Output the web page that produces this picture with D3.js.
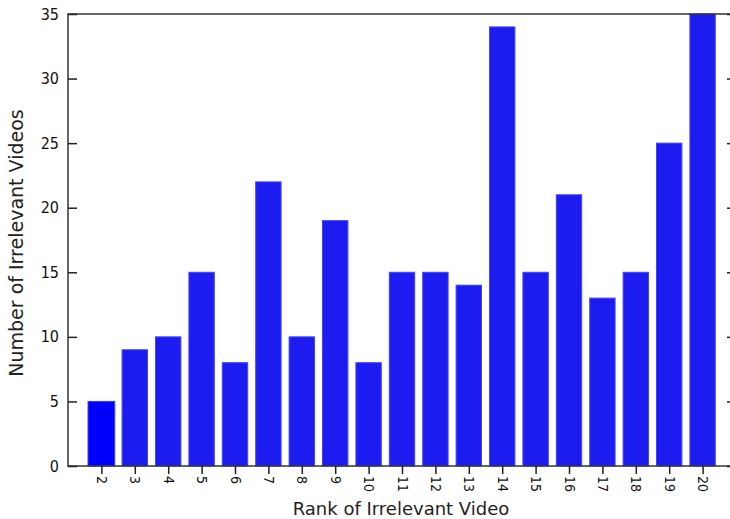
<!DOCTYPE html>
<html><head><meta charset="utf-8">
<script src="https://cdn.jsdelivr.net/npm/d3@7"></script>
<style>body{margin:0;background:#fff}svg{display:block}</style>
</head><body>
<svg id="c" width="730" height="519"></svg>
<script>
const ranks = [2,3,4,5,6,7,8,9,10,11,12,13,14,15,16,17,18,19,20];
const counts = [5,9,10,15,8,22,10,19,8,15,15,14,34,15,21,13,15,25,35];
const yTicks = [0,5,10,15,20,25,30,35];
const xTitle = "Rank of Irrelevant Video";
const yTitle = "Number of Irrelevant Videos";

const svg = d3.select("#c");
const m = {l:68, r:736, t:14, b:466};
const x = d3.scaleLinear().domain([1,21]).range([m.l, m.r]);
const y = d3.scaleLinear().domain([0,35]).range([m.b, m.t]);
const step = x(2)-x(1);
const font = "Tahoma, 'DejaVu Sans', Verdana, sans-serif";
const tickFont = "'DejaVu Sans Condensed', 'DejaVu Sans', sans-serif";

// bars
svg.append("g").selectAll("rect").data(ranks).join("rect")
  .attr("x", (d,i)=> x(d) - step*(i===0?0.4:0.38))
  .attr("width", (d,i)=> step*(i===0?0.8:0.76))
  .attr("y", (d,i)=> y(counts[i]))
  .attr("height", (d,i)=> y(0)-y(counts[i]))
  .attr("fill", (d,i)=> i===0 ? "#0000ff" : "#1c1cf0")
  .attr("stroke", (d,i)=> i===0 ? "#3a3aff" : "#4444ff")
  .attr("stroke-width", 1);

// frame
svg.append("rect").attr("x", m.l).attr("y", m.t).attr("width", m.r-m.l).attr("height", m.b-m.t)
  .attr("fill","none").attr("stroke","#333").attr("stroke-width",1.5);

// y axis left
const yAx = svg.append("g").attr("transform",`translate(${m.l},0)`)
  .call(d3.axisLeft(y).tickValues(yTicks).tickSize(-9).tickPadding(9).tickFormat(d3.format("d")));
yAx.select(".domain").remove();
yAx.selectAll("line").attr("stroke","#222").attr("stroke-width",1.5);
yAx.selectAll("text").attr("font-family",tickFont).attr("font-size",16).attr("fill","#111");

// y axis right ticks
const yAxR = svg.append("g").attr("transform",`translate(${m.r},0)`)
  .call(d3.axisRight(y).tickValues(yTicks).tickSize(-9).tickFormat(""));
yAxR.select(".domain").remove();
yAxR.selectAll("line").attr("stroke","#222").attr("stroke-width",1.5);

// x axis
const xAx = svg.append("g").attr("transform",`translate(0,${m.b})`)
  .call(d3.axisBottom(x).tickValues(ranks).tickSize(8).tickFormat(d3.format("d")));
xAx.select(".domain").remove();
xAx.selectAll("line").attr("stroke","#222").attr("stroke-width",1.5);
xAx.selectAll("text")
  .attr("font-family",tickFont).attr("font-size",14).attr("fill","#111")
  .attr("transform","rotate(90)")
  .attr("x",10).attr("y",0).attr("dy","0.35em")
  .attr("text-anchor","start");

// titles
svg.append("text").attr("x",401).attr("y",515).attr("text-anchor","middle")
  .attr("font-family",font).attr("font-size",18).attr("fill","#222").text(xTitle);
svg.append("text").attr("transform","translate(23,243) rotate(-90)").attr("text-anchor","middle")
  .attr("font-family",font).attr("font-size",19).attr("fill","#222").text(yTitle);
</script>
</body></html>
